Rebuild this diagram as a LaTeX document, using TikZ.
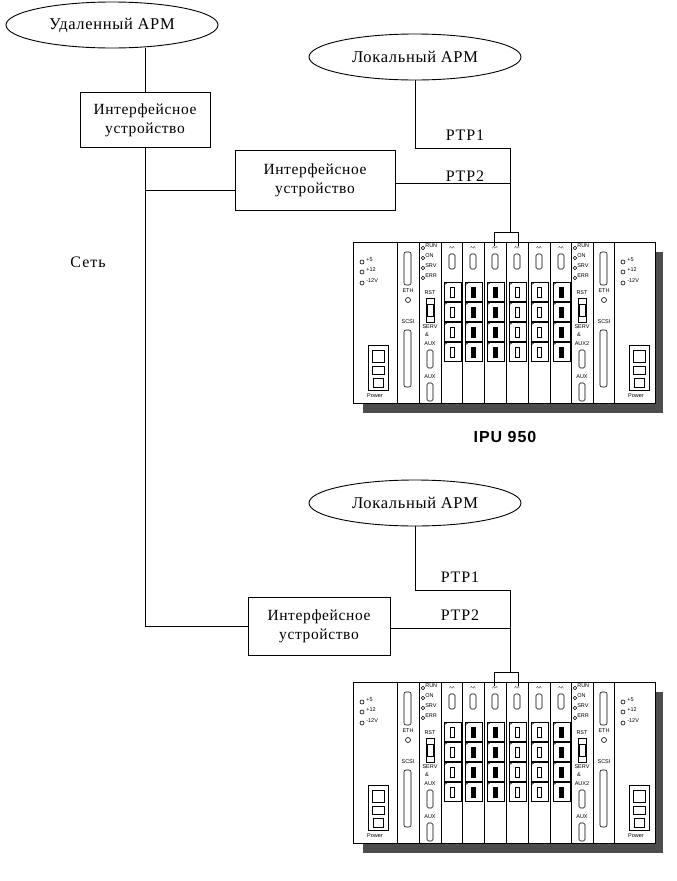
\documentclass[tikz,border=0pt]{standalone}
\usepackage{fontspec}
\setmainfont{Liberation Serif}
\newfontfamily\sansf{Liberation Sans}
\usetikzlibrary{shapes.geometric}
\newcommand\rackunit[3]{%
\begin{scope}[shift={(#1,#2)},line width=0.6pt]
\fill[black!70] (10,10) rectangle (310,171);
\filldraw[fill=white] (0,0) rectangle (302,161);
\foreach \x in {44,66,88,109,131,153,175,197,218,240,261} \draw (\x,0)--(\x,161);
\foreach \px in {0,261} {
 \foreach \yy/\t in {20/+5,30/+12,41/-12V} {\draw (\px+9,\yy) circle (2); \node[tiny,anchor=west] at (\px+13,\yy-2) {\t};}
 \draw (\px+15,103) rectangle (\px+35,148);
 \draw (\px+19,108) rectangle (\px+31,120);
 \draw (\px+19,124) rectangle (\px+31,132);
 \draw (\px+20,136) rectangle (\px+30,145);
 \node[tiny] at (\px+22,154) {Power};
}
\foreach \px in {44,240} {
 \draw[rounded corners=2] (\px+7,10) rectangle (\px+14,43);
 \node[tiny] at (\px+11,49) {ETH};
 \draw (\px+11,58) circle (2.5);
 \node[tiny] at (\px+11,80) {SCSI};
 \draw[rounded corners=2] (\px+7,88) rectangle (\px+14,145);
}
\foreach \px/\a in {66/AUX,218/AUX2} {
 \foreach \yy/\t in {6/RUN,16/ON,26/SRV,36/ERR} {\draw (\px+4,\yy) circle (1.8); \node[tiny,anchor=west] at (\px+6,\yy-2) {\t};}
 \node[tiny] at (\px+11,51) {RST};
 \draw (\px+7,56) rectangle (\px+15,80); \draw (\px+8,62) rectangle (\px+14,74);
 \node[tiny] at (\px+11,85) {SERV};
 \node[tiny] at (\px+8,93) {\&};
 \node[tiny] at (\px+11,102) {\a};
 \draw[rounded corners=1.5] (\px+8,108) rectangle (\px+14,126);
 \node[tiny] at (\px+11,135) {AUX};
 \draw[rounded corners=1.5] (\px+8,141) rectangle (\px+14,159);
}
\foreach \px/\f in {88/white,109/black,131/black,153/white,175/white,197/black} {
 \node[tiny] at (\px+11,7) {\textasciicircum\textasciicircum};
 \draw[rounded corners=1.5] (\px+8,12) rectangle (\px+14,27);
 \foreach \yy in {40,60,80,100} {
  \draw (\px+3,\yy) rectangle (\px+20,\yy+19);
  \draw (\px+3,\yy+3) -- (\px+7,\yy);
  \filldraw[fill=\f] (\px+9,\yy+5) rectangle (\px+13,\yy+15);
 }
}
\draw[line width=0.9pt] (141,4) -- (141,-10) -- (165,-10) -- (165,4);
\coordinate (#3) at (157,-10);
\end{scope}}
\begin{document}
\begin{tikzpicture}[x=1pt,y=-1pt,line width=0.9pt,
 arm/.style={ellipse,draw,minimum width=212pt,minimum height=46pt,inner sep=0,font=\fontsize{16.5}{16}\selectfont\addfontfeature{LetterSpace=4}},
 dev/.style={draw,align=center,inner sep=0,font=\fontsize{15.5}{19}\selectfont\addfontfeature{LetterSpace=4}},
 lbl/.style={font=\fontsize{16}{16}\selectfont\addfontfeature{LetterSpace=6}},
 tiny/.style={font=\sansf\fontsize{5.5}{6}\selectfont,inner sep=0}]
\useasboundingbox (0,0) rectangle (677,881);
\node[arm] (r) at (112,25) {Удаленный АРМ};
\node[dev,minimum width=130pt,minimum height=55pt] (b1) at (145,120) {Интерфейсное\\устройство};
\node[dev,minimum width=160pt,minimum height=60pt] (b2) at (315,180) {Интерфейсное\\устройство};
\node[arm] (l1) at (415,57) {Локальный АРМ};
\node[lbl] (p1) at (465,135) {PTP1};
\node[lbl] (p2) at (465,176) {PTP2};
\node[lbl] (net) at (88,262) {Сеть};
\rackunit{353}{242}{k1}
\node[font=\sansf\bfseries\fontsize{16}{16}\selectfont\addfontfeature{LetterSpace=6}] (ipu) at (505,437) {IPU 950};
\node[arm] (l2) at (415,503) {Локальный АРМ};
\node[dev,minimum width=142pt,minimum height=58pt] (b3) at (319,626) {Интерфейсное\\устройство};
\node[lbl] (q1) at (460,577) {PTP1};
\node[lbl] (q2) at (460,615) {PTP2};
\rackunit{353}{682}{k2}
% connectors
\draw (b1.north) -- (b1.north |- r.south);
\draw (b1.south) -- (b1.south |- b3.west) -- (b3.west);
\draw (b1.south |- 0,190) -- (b2.west |- 0,190);
\draw (l1.south) -- (l1.south |- 0,148) -| (k1);
\draw (b2.east |- 0,183) -- (k1 |- 0,183);
\draw (l2.south) -- (l2.south |- 0,590) -| (k2);
\draw (b3.east |- 0,628) -- (k2 |- 0,628);
\end{tikzpicture}
\end{document}
